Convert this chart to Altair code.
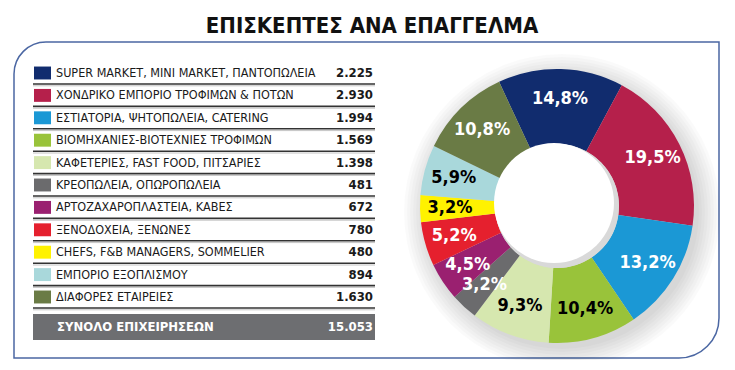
import math
import altair as alt
import pandas as pd

title = "ΕΠΙΣΚΕΠΤΕΣ ΑΝΑ ΕΠΑΓΓΕΛΜΑ"
categories = [
    "SUPER MARKET, MINI MARKET, ΠΑΝΤΟΠΩΛΕΙΑ",
    "ΧΟΝΔΡΙΚΟ ΕΜΠΟΡΙΟ ΤΡΟΦΙΜΩΝ & ΠΟΤΩΝ",
    "ΕΣΤΙΑΤΟΡΙΑ, ΨΗΤΟΠΩΛΕΙΑ, CATERING",
    "ΒΙΟΜΗΧΑΝΙΕΣ-ΒΙΟΤΕΧΝΙΕΣ ΤΡΟΦΙΜΩΝ",
    "ΚΑΦΕΤΕΡΙΕΣ, FAST FOOD, ΠΙΤΣΑΡΙΕΣ",
    "ΚΡΕΟΠΩΛΕΙΑ, ΟΠΩΡΟΠΩΛΕΙΑ",
    "ΑΡΤΟΖΑΧΑΡΟΠΛΑΣΤΕΙΑ, ΚΑΒΕΣ",
    "ΞΕΝΟΔΟΧΕΙΑ, ΞΕΝΩΝΕΣ",
    "CHEFS, F&B MANAGERS, SOMMELIER",
    "ΕΜΠΟΡΙΟ ΕΞΟΠΛΙΣΜΟΥ",
    "ΔΙΑΦΟΡΕΣ ΕΤΑΙΡΕΙΕΣ",
]
values = [2225, 2930, 1994, 1569, 1398, 481, 672, 780, 480, 894, 1630]
pct_labels = ["14,8%", "19,5%", "13,2%", "10,4%", "9,3%", "3,2%",
              "4,5%", "5,2%", "3,2%", "5,9%", "10,8%"]
colors = ["#112c6e", "#b5204b", "#1b98d5", "#99c33a", "#d6e7af", "#6b6b6d",
          "#9a2070", "#e5202e", "#fff200", "#a9d8db", "#6a7b45"]
label_colors = ["white", "white", "white", "black", "black", "white",
                "white", "white", "black", "black", "white"]
total_label = "ΣΥΝΟΛΟ ΕΠΙΧΕΙΡΗΣΕΩΝ"


def fmt(v):
    return f"{v:,}".replace(",", ".")


df = pd.DataFrame({
    "cat": categories,
    "value": values,
    "row": list(range(len(categories))),
    "pct": pct_labels,
    "color": colors,
    "tcolor": label_colors,
    "vtext": [fmt(v) for v in values],
})
one = pd.DataFrame({"a": [0]})

FONT = "DejaVu Sans Condensed, sans-serif"
W, H = 719, 352
ROW_PX = 22.4
FIRST = 65
yscale = alt.Scale(domain=[-FIRST / ROW_PX, (H - FIRST) / ROW_PX], range=[0, H],
                   zero=False, nice=False)
Y = alt.Y("row:Q", scale=yscale, axis=None)

start = -25 * math.pi / 180
tscale = alt.Scale(range=[start, start + 2 * math.pi])
CX, CY = 549, 198

box = alt.Chart(one).mark_rect(
    fill="white", stroke="#4b67a3", strokeWidth=1.5,
    cornerRadiusTopLeft=32, cornerRadiusBottomRight=40
).encode(x=alt.value(6), x2=alt.value(711), y=alt.value(34), y2=alt.value(350))

# soft shadow around the donut
shadows = []
for k in range(8):
    shadows.append(
        alt.Chart(one).mark_arc(
            theta=0, theta2=2 * math.pi, outerRadius=137 + 3 * k,
            innerRadius=0, fill="#000000", opacity=0.02
        ).encode(x=alt.value(CX + 5), y=alt.value(CY + 6))
    )

title_t = alt.Chart(one).mark_text(
    text=title, font=FONT, fontWeight="bold", fontSize=22, color="#111111",
    baseline="middle"
).encode(x=alt.value(364), y=alt.value(18))

seps = alt.Chart(df).mark_rule(color="#333333", strokeWidth=1.6, yOffset=11).encode(
    x=alt.value(25), x2=alt.value(367), y=Y)
seps2 = alt.Chart(df).mark_rule(color="#c4c4c4", strokeWidth=1, yOffset=12.8).encode(
    x=alt.value(25), x2=alt.value(367), y=Y)

swatches = alt.Chart(df).mark_point(
    shape="M-1,-0.76H1V0.76H-1Z", filled=True, size=289, opacity=1
).encode(x=alt.value(34.5), y=Y, color=alt.Color("color:N", scale=None))

labels = alt.Chart(df).mark_text(
    align="left", baseline="middle", font=FONT, fontSize=12.5, color="#1a1a1a"
).encode(x=alt.value(48), y=Y, text="cat:N")

vals = alt.Chart(df).mark_text(
    align="right", baseline="middle", font=FONT, fontSize=13, fontWeight="bold",
    color="#1a1a1a"
).encode(x=alt.value(365), y=Y, text="vtext:N")

total_bar = alt.Chart(one).mark_rect(color="#6d6e71").encode(
    x=alt.value(25), x2=alt.value(367), y=alt.value(306), y2=alt.value(332))
total_t = alt.Chart(one).mark_text(
    text=total_label, align="left", baseline="middle", font=FONT, fontSize=13,
    fontWeight="bold", color="white").encode(x=alt.value(49), y=alt.value(319))
total_v = alt.Chart(one).mark_text(
    text=fmt(sum(values)), align="right", baseline="middle", font=FONT, fontSize=13,
    fontWeight="bold", color="white").encode(x=alt.value(365), y=alt.value(319))

donut = alt.Chart(df).mark_arc(innerRadius=62, outerRadius=137).encode(
    theta=alt.Theta("value:Q", stack=True, scale=tscale),
    order=alt.Order("row:Q"),
    color=alt.Color("color:N", scale=None),
    x=alt.value(CX), y=alt.value(CY),
)
# inner shadow in the hole
hole_shade = alt.Chart(one).mark_arc(
    theta=0, theta2=2 * math.pi, outerRadius=62, innerRadius=0, fill="#d9d9d9"
).encode(x=alt.value(CX), y=alt.value(CY))
hole_white = alt.Chart(one).mark_arc(
    theta=0, theta2=2 * math.pi, outerRadius=60, innerRadius=0, fill="white"
).encode(x=alt.value(CX - 3), y=alt.value(CY - 3))

donut_t = alt.Chart(df).mark_text(
    radius=107, font=FONT, fontSize=18, fontWeight="bold", baseline="middle"
).encode(
    theta=alt.Theta("value:Q", stack=True, scale=tscale),
    order=alt.Order("row:Q"),
    text="pct:N",
    color=alt.Color("tcolor:N", scale=None),
    x=alt.value(CX), y=alt.value(CY),
)

chart = alt.layer(
    box, *shadows, title_t, seps, seps2, swatches, labels, vals, total_bar, total_t,
    total_v, donut, hole_shade, hole_white, donut_t
).properties(
    width=W, height=H, padding=0, autosize=alt.AutoSizeParams(type="none"),
    background="white"
).configure_view(stroke=None)

chart.save("out.html", embed_options={"renderer": "svg", "actions": False})
